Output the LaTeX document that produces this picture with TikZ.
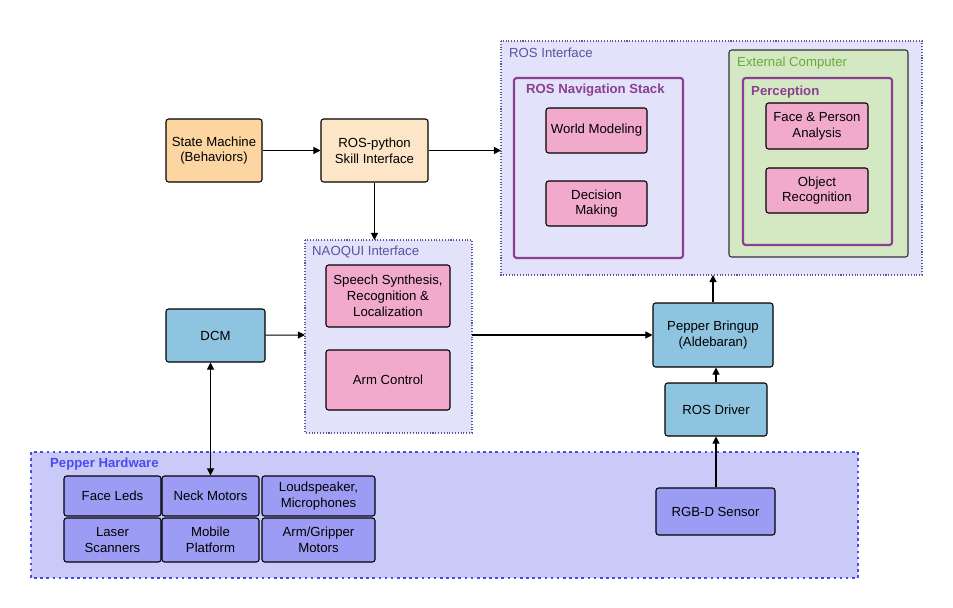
\documentclass[tikz,border=0pt]{standalone}
\usepackage{fontspec}
\setmainfont{Liberation Sans}
\usetikzlibrary{arrows.meta}
\definecolor{lav}{HTML}{E2E2FA}
\definecolor{purp}{HTML}{8A3F8F}
\definecolor{pinkf}{HTML}{F2AACC}
\definecolor{greenf}{HTML}{D5E8C4}
\definecolor{greent}{HTML}{6AAA3A}
\definecolor{orangef}{HTML}{FDD5A0}
\definecolor{peach}{HTML}{FDE5C8}
\definecolor{bluef}{HTML}{8FC4E0}
\definecolor{hwf}{HTML}{CACAF8}
\definecolor{hwbox}{HTML}{9C9CF5}
\definecolor{hwline}{HTML}{4A4AF0}
\definecolor{labc}{HTML}{6050A0}
\begin{document}
\begin{tikzpicture}[x=0.02cm,y=-0.02cm,font=\fontsize{7.5}{9}\selectfont,
  box/.style={draw=black,rounded corners=1.5pt,line width=0.6pt,align=center,inner sep=0pt},
  sz/.style 2 args={minimum width=#1*0.02cm,minimum height=#2*0.02cm},
  cont/.style={draw=labc,densely dotted,line width=0.6pt,fill=lav},
  arr/.style={-{Triangle[length=4pt,width=4pt]},line width=0.6pt}]
\useasboundingbox (0,0) rectangle (953,608);
% ROS Interface
\draw[cont] (501,41) rectangle (922,275);
\node[anchor=north west,text=labc] (rosl) at (503,42) {ROS Interface};
\draw[draw=purp,line width=1.2pt,fill=lav,rounded corners=1.5pt] (514,78) rectangle (683,258);
\node[anchor=north west,text=purp,font=\fontsize{7.5}{9}\selectfont\bfseries] (navl) at (520,78) {ROS Navigation Stack};
\node[box,fill=pinkf,sz={101}{45}] (wm) at (596.5,130.5) {World Modeling};
\node[box,fill=pinkf,sz={101}{45}] (dm) at (596.5,203.5) {Decision\\Making};
\draw[draw=black!80,line width=0.6pt,fill=greenf,rounded corners=1.5pt] (729,50) rectangle (908,257);
\node[anchor=north west,text=greent] (ecl) at (731,51) {External Computer};
\draw[draw=purp,line width=1.2pt,fill=greenf,rounded corners=1.5pt] (743,78) rectangle (892,245);
\node[anchor=north west,text=purp,font=\fontsize{7.5}{9}\selectfont\bfseries] (perl) at (745,80) {Perception};
\node[box,fill=pinkf,sz={102}{46}] (fp) at (817,126) {Face \& Person\\Analysis};
\node[box,fill=pinkf,sz={102}{45}] (or) at (817,190.5) {Object\\Recognition};
% left
\node[box,fill=orangef,sz={96}{63}] (sm) at (214,150.5) {State Machine\\(Behaviors)};
\node[box,fill=peach,sz={107}{63}] (rp) at (374.5,150.5) {ROS-python\\Skill Interface};
% NAOQUI
\draw[cont] (305,240) rectangle (472,433);
\node[anchor=north west,text=labc] (naol) at (306,240) {NAOQUI Interface};
\node[box,fill=pinkf,sz={124}{62}] (ss) at (388,296) {Speech Synthesis,\\Recognition \&\\Localization};
\node[box,fill=pinkf,sz={124}{60}] (ac) at (388,380) {Arm Control};
\node[box,fill=bluef,sz={99}{53}] (dcm) at (215.5,335.5) {DCM};
\node[box,fill=bluef,sz={120}{64}] (pb) at (713,335) {Pepper Bringup\\(Aldebaran)};
\node[box,fill=bluef,sz={102}{53}] (rd) at (716,409.5) {ROS Driver};
% hardware
\draw[draw=hwline,fill=hwf,dotted,line width=1.5pt] (31,452) rectangle (858,578);
\node[anchor=north west,text=hwline,font=\fontsize{7.5}{9}\selectfont\bfseries] (hwl) at (44,452) {Pepper Hardware};
\node[box,fill=hwbox,sz={97}{40}] (fl) at (112.5,496) {Face Leds};
\node[box,fill=hwbox,sz={97}{40}] (nm) at (210.5,496) {Neck Motors};
\node[box,fill=hwbox,sz={113}{40}] (ls) at (318.5,496) {Loudspeaker,\\Microphones};
\node[box,fill=hwbox,sz={97}{44}] (lsc) at (112.5,540) {Laser\\Scanners};
\node[box,fill=hwbox,sz={97}{44}] (mp) at (210.5,540) {Mobile\\Platform};
\node[box,fill=hwbox,sz={113}{44}] (ag) at (318.5,540) {Arm/Gripper\\Motors};
\node[box,fill=hwbox,sz={119}{47}] (rgb) at (715.5,511.5) {RGB-D Sensor};
% connection anchors
\coordinate (ri) at (501,150.5);
\coordinate (nt) at (374.5,240);
\coordinate (nl) at (305,335);
\coordinate (nr) at (472,335);
\coordinate (rb) at (713,275);
\draw[arr] (sm) -- (rp);
\draw[arr] (rp) -- (ri);
\draw[arr] (rp) -- (nt);
\draw[arr] (dcm) -- (nl);
\draw[arr] (nr) -- (pb);
\draw[arr] (pb) -- (rb);
\draw[arr] (rd.north-|716,0) -- (pb.south-|716,0);
\draw[arr] (rgb.north-|716,0) -- (rd.south-|716,0);
\draw[{Triangle[length=4pt,width=4pt]}-{Triangle[length=4pt,width=4pt]},line width=0.6pt] (dcm.south-|210.5,0) -- (nm);
\end{tikzpicture}
\end{document}
